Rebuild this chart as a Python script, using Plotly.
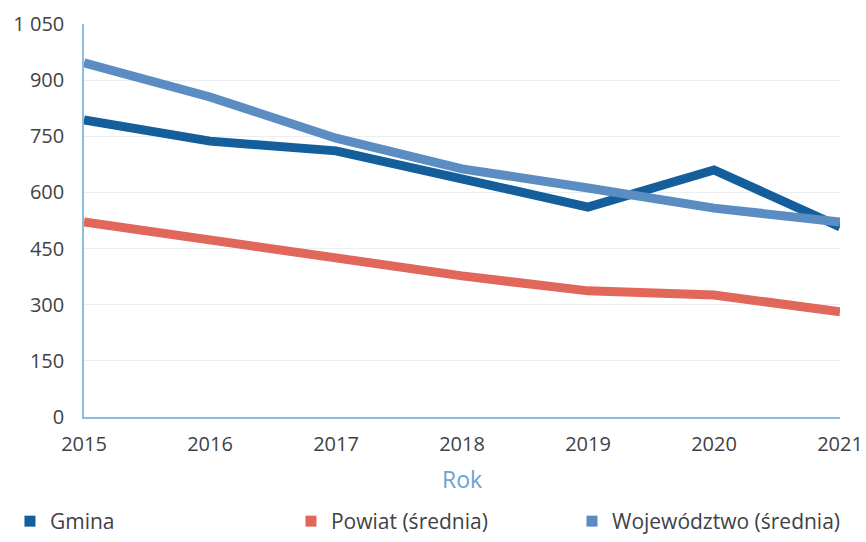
import plotly.graph_objects as go

years = [2015, 2016, 2017, 2018, 2019, 2020, 2021]
gmina = [794, 737, 711, 633, 561, 660, 508]
powiat = [521, 473, 422, 377, 337, 326, 281]
wojewodztwo = [946, 855, 745, 663, 612, 558, 521]
y_ticks = [0, 150, 300, 450, 600, 750, 900, 1050]
y_tick_labels = ["0", "150", "300", "450", "600", "750", "900", "1 050"]

names = ["Gmina", "Powiat (średnia)", "Województwo (średnia)"]
colors = ["#145f9b", "#e0675a", "#5b8dc2"]
series = [gmina, powiat, wojewodztwo]
legend_ids = ["legend", "legend2", "legend3"]
legend_x = [0.0115, 0.336, 0.6605]

fig = go.Figure()
# draw order: Powiat, Gmina, Wojewodztwo on top
for idx in [1, 0, 2]:
    fig.add_trace(go.Scatter(x=years, y=series[idx], mode="lines",
                             line=dict(color=colors[idx], width=9),
                             showlegend=False, name=names[idx]))
for name, c, lid in zip(names, colors, legend_ids):
    fig.add_trace(go.Scatter(x=[None], y=[None], mode="markers", name=name,
                             legend=lid,
                             marker=dict(symbol="square", size=11, color=c)))

font = "Open Sans, sans-serif"
tick_color = "#3f4246"
legends = {}
for lid, lx in zip(legend_ids, legend_x):
    legends[lid] = dict(orientation="h", xref="container", yref="container",
                        x=lx, xanchor="left", y=0.0, yanchor="bottom",
                        itemwidth=30, font=dict(size=21, color=tick_color))

fig.update_layout(
    width=866, height=542,
    margin=dict(l=84, r=26, t=24, b=125),
    paper_bgcolor="white", plot_bgcolor="white",
    font=dict(family=font, size=20, color=tick_color),
    xaxis=dict(range=[2015, 2021], tickvals=years, showgrid=False,
               showline=True, linecolor="#8cbbe3", linewidth=1.5,
               ticks="", tickfont=dict(size=20, color=tick_color),
               ticklabelstandoff=8,
               title=dict(text="Rok", font=dict(size=23, color="#6aa3cf"), standoff=16),
               zeroline=False, automargin=False),
    yaxis=dict(range=[0, 1050], tickvals=y_ticks, ticktext=y_tick_labels,
               showgrid=True, gridcolor="#eceff2", gridwidth=1,
               showline=True, linecolor="#8cbbe3", linewidth=1.5,
               ticks="", zeroline=False, automargin=False,
               ticklabelstandoff=14,
               tickfont=dict(size=20, color=tick_color)),
    **legends,
)
fig.write_html("out.html", config={"displayModeBar": False},
               post_script="document.body.style.margin='0';")
